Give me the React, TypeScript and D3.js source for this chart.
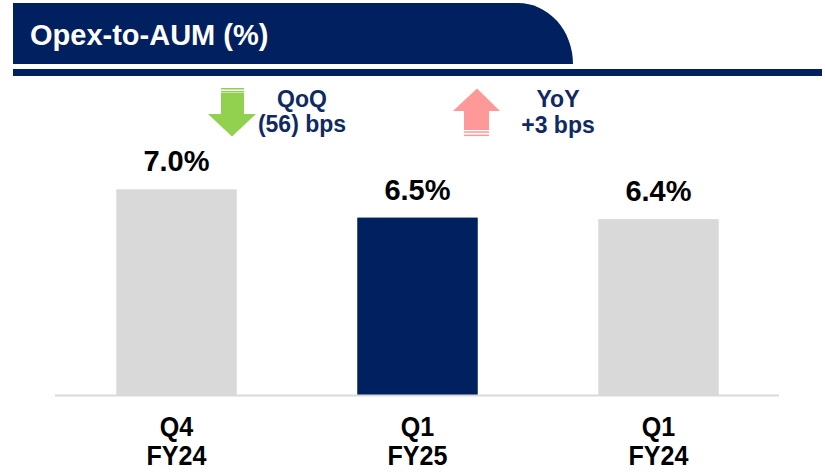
import * as d3 from 'd3';
import React from 'react';

// data
const categories = ['Q4|FY24', 'Q1|FY25', 'Q1|FY24'];
const values = [7.0, 6.45, 6.42];
const valueLabels = ['7.0%', '6.5%', '6.4%'];
const highlight = [false, true, false];

const width = 825;
const height = 474;
const navy = '#002060';
const font = 'Liberation Sans, Arial, sans-serif';

const App = () => {
  // scales
  const xScale = d3
    .scaleBand()
    .domain(categories)
    .range([56, 779])
    .paddingInner(0.5)
    .paddingOuter(0.25);

  const yScale = d3.scaleLinear().domain([3, 7]).range([395, 189.3]);

  const bars = categories.map((c, i) => (
    <rect
      key={c}
      x={xScale(c)}
      y={yScale(values[i])}
      width={xScale.bandwidth()}
      height={yScale(3) - yScale(values[i])}
      fill={highlight[i] ? navy : '#d9d9d9'}
    />
  ));

  const valueTexts = categories.map((c, i) => (
    <text
      key={c}
      x={xScale(c)! + xScale.bandwidth() / 2}
      y={yScale(values[i]) - 18}
      textAnchor="middle"
      fontSize={29}
      fontWeight="bold"
      fill="#000"
    >
      {valueLabels[i]}
    </text>
  ));

  const catTexts = categories.map((c) => {
    const [a, b] = c.split('|');
    const cx = xScale(c)! + xScale.bandwidth() / 2;
    return (
      <g key={c} transform={`translate(${cx},0)`}>
        <text y={436} textAnchor="middle" fontSize={27} fontWeight="bold" transform="scale(0.93,1)">
          {a}
        </text>
        <text y={465} textAnchor="middle" fontSize={27} fontWeight="bold" transform="scale(0.93,1)">
          {b}
        </text>
      </g>
    );
  });

  // header shape with rounded top-right corner
  const header = `M13,3 L518,3 A55,61 0 0 1 573,64 L13,64 Z`;

  // arrows
  const down = 'M221,93 L244,93 L244,114 L256,114 L232,136.5 L208,114 L221,114 Z';
  const up = 'M477,88.5 L500,111 L489,111 L489,130 L464,130 L464,111 L453,111 Z';

  return (
    <svg
      width={width}
      height={height}
      style={{ position: 'absolute', left: 0, top: 0, fontFamily: font }}
    >
      <rect width={width} height={height} fill="#fff" />
      <path d={header} fill={navy} />
      <text x={30} y={45} fontSize={29} fontWeight="bold" fill="#fff">
        Opex-to-AUM (%)
      </text>
      <rect x={13} y={69} width={809} height={7} fill={navy} />

      {/* QoQ arrow */}
      <rect x={221} y={88} width={23} height={1.5} fill="#92d050" />
      <rect x={221} y={91} width={23} height={1.5} fill="#92d050" />
      <path d={down} fill="#92d050" />
      <text x={302} y={107} textAnchor="middle" fontSize={23} fontWeight="bold" fill="#0f2a62">
        QoQ
      </text>
      <text x={302} y={132} textAnchor="middle" fontSize={23} fontWeight="bold" fill="#0f2a62">
        (56) bps
      </text>

      {/* YoY arrow */}
      <path d={up} fill="#ff9999" />
      <rect x={464} y={131.3} width={25} height={1.5} fill="#ff9999" />
      <rect x={464} y={134.6} width={25} height={1.5} fill="#ff9999" />
      <text x={558} y={107} textAnchor="middle" fontSize={23} fontWeight="bold" fill="#0f2a62">
        YoY
      </text>
      <text x={558} y={133} textAnchor="middle" fontSize={23} fontWeight="bold" fill="#0f2a62">
        +3 bps
      </text>

      {bars}
      <line x1={55} x2={779} y1={395.5} y2={395.5} stroke="#d9d9d9" strokeWidth={2} />
      {valueTexts}
      {catTexts}
    </svg>
  );
};

export default App;
